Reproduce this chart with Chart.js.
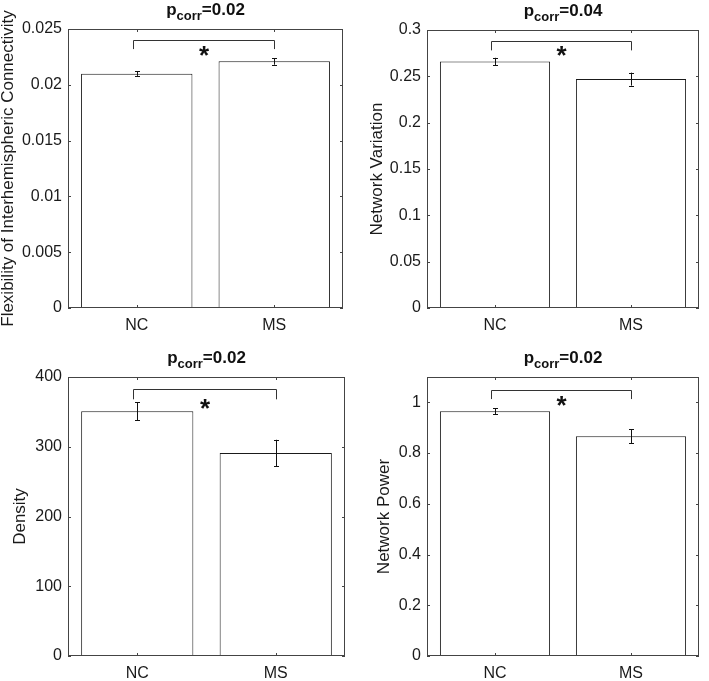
<!DOCTYPE html>
<html>
<head>
<meta charset="utf-8">
<script src="https://cdn.jsdelivr.net/npm/chart.js@4.4.0/dist/chart.umd.min.js"></script>
<style>
  html, body { margin: 0; padding: 0; background: #fff; }
  #wrap { position: relative; width: 709px; height: 681px; overflow: hidden; }
  .panel { position: absolute; }
</style>
</head>
<body>
<div id="wrap">
  <div class="panel" style="left:0;top:0;width:354px;height:340px"><canvas id="c1"></canvas></div>
  <div class="panel" style="left:354px;top:0;width:355px;height:340px"><canvas id="c2"></canvas></div>
  <div class="panel" style="left:0;top:340px;width:354px;height:341px"><canvas id="c3"></canvas></div>
  <div class="panel" style="left:354px;top:340px;width:355px;height:341px"><canvas id="c4"></canvas></div>
</div>
<script>
// ---- data ----
const categories = ['NC', 'MS'];

const flexibilityMeans = [0.0210, 0.0221];
const flexibilityErrors = [0.0002, 0.0003];

const variationMeans = [0.266, 0.247];
const variationErrors = [0.004, 0.007];

const densityMeans = [351, 291];
const densityErrors = [13, 19];

const powerMeans = [0.965, 0.866];
const powerErrors = [0.011, 0.028];

const yTitles = ['Flexibility of Interhemispheric Connectivity', 'Network Variation', 'Density', 'Network Power'];
const pValues = ['0.02', '0.04', '0.02', '0.02'];
const yMaxValues = [0.025, 0.3, 400, 1.1];
const yStepValues = [0.005, 0.05, 100, 0.2];

// significance bracket (in data units): top of bracket, bottom of its legs, star position
const bracketTops = [0.0240, 0.288, 383, 1.048];
const bracketLegs = [0.0232, 0.278, 368, 1.013];
const starValues = [0.0229, 0.2763, 360, 1.001];

const meansList = [flexibilityMeans, variationMeans, densityMeans, powerMeans];
const errorsList = [flexibilityErrors, variationErrors, densityErrors, powerErrors];

// ---- layout (pixels inside each panel canvas) ----
const panels = [
  { id: 'c1', w: 354, h: 340, left: 68, right: 343, top: 29, bottom: 308, titleX: 0 },
  { id: 'c2', w: 355, h: 340, left: 73, right: 345, top: 30, bottom: 308, titleX: 15 },
  { id: 'c3', w: 354, h: 341, left: 68, right: 345, top: 37, bottom: 316, titleX: 12 },
  { id: 'c4', w: 355, h: 341, left: 73, right: 345, top: 37, bottom: 316, titleX: 22 }
];

const FONT = '"Liberation Sans", Arial, sans-serif';
const AXIS_COLOR = '#444';
const TEXT_COLOR = '#1a1a1a';

const decorPlugin = {
  id: 'decor',
  afterDatasetsDraw(chart, args, opts) {
    const ctx = chart.ctx;
    const ca = chart.chartArea;
    const xs = chart.scales.x, ys = chart.scales.y;
    ctx.save();
    // box
    ctx.strokeStyle = AXIS_COLOR;
    ctx.lineWidth = 1;
    ctx.strokeRect(Math.round(ca.left) + 0.5, Math.round(ca.top) + 0.5,
                   Math.round(ca.right - ca.left) - 1, Math.round(ca.bottom - ca.top) - 1);
    // inward ticks
    ctx.beginPath();
    ys.ticks.forEach(t => {
      const y = Math.round(ys.getPixelForValue(t.value)) + 0.5;
      ctx.moveTo(ca.left, y); ctx.lineTo(ca.left + 3, y);
      ctx.moveTo(ca.right, y); ctx.lineTo(ca.right - 3, y);
    });
    categories.forEach((c, i) => {
      const x = Math.round(xs.getPixelForValue(i)) + 0.5;
      ctx.moveTo(x, ca.bottom); ctx.lineTo(x, ca.bottom - 3);
      ctx.moveTo(x, ca.top); ctx.lineTo(x, ca.top + 3);
    });
    ctx.stroke();

    // error bars
    const means = opts.means, errs = opts.errors;
    ctx.strokeStyle = '#111';
    ctx.beginPath();
    means.forEach((m, i) => {
      const x = Math.round(xs.getPixelForValue(i)) + 0.5;
      const y1 = ys.getPixelForValue(m - errs[i]);
      const y2 = ys.getPixelForValue(m + errs[i]);
      ctx.moveTo(x, y1); ctx.lineTo(x, y2);
      ctx.moveTo(x - 2.5, Math.round(y1) + 0.5); ctx.lineTo(x + 2.5, Math.round(y1) + 0.5);
      ctx.moveTo(x - 2.5, Math.round(y2) + 0.5); ctx.lineTo(x + 2.5, Math.round(y2) + 0.5);
    });
    ctx.stroke();

    // significance bracket
    const bx1 = Math.round(xs.getPixelForValue(-0.03)) + 0.5;
    const bx2 = Math.round(xs.getPixelForValue(1.0)) + 0.5;
    const byTop = Math.round(ys.getPixelForValue(opts.bracketTop)) + 0.5;
    const byLeg = ys.getPixelForValue(opts.bracketLeg);
    ctx.strokeStyle = '#333';
    ctx.beginPath();
    ctx.moveTo(bx1, byLeg); ctx.lineTo(bx1, byTop); ctx.lineTo(bx2, byTop); ctx.lineTo(bx2, byLeg);
    ctx.stroke();

    // star
    const sy = ys.getPixelForValue(opts.star);
    ctx.fillStyle = '#111';
    ctx.font = 'bold 26px ' + FONT;
    ctx.textAlign = 'center';
    ctx.textBaseline = 'alphabetic';
    ctx.fillText('*', (bx1 + bx2) / 2, sy + 12);

    // title p_corr=...
    const cx = (ca.left + ca.right) / 2;
    const base = ca.top - 14;
    ctx.textAlign = 'left';
    const f1 = 'bold 17px ' + FONT, f2 = 'bold 13px ' + FONT;
    ctx.font = f1; const w1 = ctx.measureText('p').width;
    ctx.font = f2; const w2 = ctx.measureText('corr').width;
    ctx.font = f1; const w3 = ctx.measureText('=' + opts.p).width;
    let x0 = cx - (w1 + w2 + w3) / 2;
    ctx.font = f1; ctx.fillText('p', x0, base); x0 += w1;
    ctx.font = f2; ctx.fillText('corr', x0, base + 5); x0 += w2;
    ctx.font = f1; ctx.fillText('=' + opts.p, x0, base);
    ctx.restore();
  }
};

function fmt(v) { return String(+Number(v).toFixed(6)); }

panels.forEach((pn, k) => {
  const canvas = document.getElementById(pn.id);
  canvas.width = pn.w; canvas.height = pn.h;
  canvas.style.width = pn.w + 'px'; canvas.style.height = pn.h + 'px';
  const step = yStepValues[k];
  new Chart(canvas, {
    type: 'bar',
    data: {
      labels: categories,
      datasets: [{
        data: meansList[k],
        backgroundColor: '#ffffff',
        borderColor: '#1a1a1a',
        borderWidth: 1,
        barPercentage: 0.81,
        categoryPercentage: 1.0
      }]
    },
    plugins: [decorPlugin],
    options: {
      responsive: false,
      animation: false,
      devicePixelRatio: 1,
      layout: { padding: { left: 0, top: pn.top, right: pn.w - pn.right, bottom: 0 } },
      plugins: {
        legend: { display: false },
        tooltip: { enabled: false },
        title: { display: false },
        decor: {
          means: meansList[k], errors: errorsList[k], p: pValues[k],
          bracketTop: bracketTops[k], bracketLeg: bracketLegs[k], star: starValues[k]
        }
      },
      scales: {
        x: {
          offset: true,
          grid: { display: false, drawTicks: false },
          border: { display: false },
          ticks: { color: TEXT_COLOR, font: { family: FONT, size: 16 }, padding: 8 },
          afterFit(s) { s.height = pn.h - pn.bottom; }
        },
        y: {
          min: 0, max: yMaxValues[k],
          grid: { display: false, drawTicks: false },
          border: { display: false },
          ticks: { stepSize: step, color: TEXT_COLOR, font: { family: FONT, size: 16 }, padding: 6,
                   callback: v => fmt(v) },
          afterBuildTicks(s) {
            s.ticks = s.ticks.filter(t => Math.abs(t.value / step - Math.round(t.value / step)) < 1e-6);
          },
          title: { display: true, text: yTitles[k], color: TEXT_COLOR,
                   font: { family: FONT, size: 17, lineHeight: 1 },
                   padding: { top: pn.titleX, bottom: 0 } },
          afterFit(s) { s.width = pn.left; }
        }
      }
    }
  });
});
</script>
</body>
</html>
